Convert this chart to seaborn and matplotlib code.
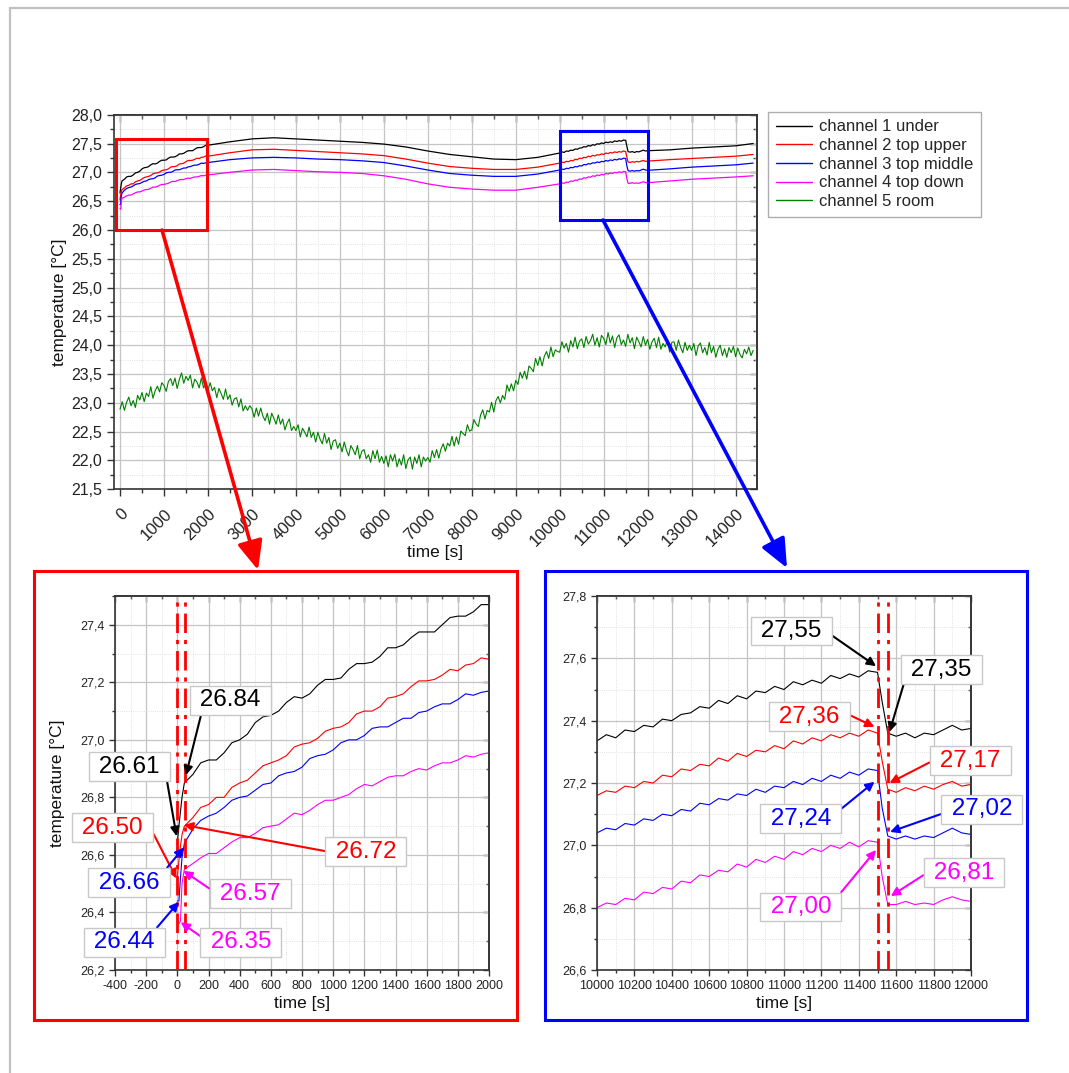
import numpy as np
import pandas as pd
import matplotlib
matplotlib.use("Agg")
import matplotlib.pyplot as plt
import seaborn as sns
from matplotlib.patches import Rectangle, FancyArrowPatch
from matplotlib.lines import Line2D
from matplotlib.ticker import MultipleLocator, FuncFormatter

# ---------------- data ----------------
t_channels = ([0, 10, 20, 30, 45] + list(range(100, 2001, 50)) + list(range(2500, 9501, 500))
              + list(range(10000, 11501, 50)) + [11525, 11555] + list(range(11600, 12001, 50))
              + list(range(12500, 14001, 500)) + [14400])

ch1_under = ([26.64, 26.70, 26.75, 26.80, 26.85]
             + [26.88, 26.92, 26.93, 26.93, 26.955, 26.99, 27.00, 27.02, 27.06, 27.08,
                27.085, 27.10, 27.13, 27.15, 27.145, 27.16, 27.19, 27.21, 27.21, 27.215,
                27.245, 27.265, 27.265, 27.27, 27.29, 27.32, 27.32, 27.33, 27.355, 27.375,
                27.375, 27.375, 27.40, 27.425, 27.43, 27.43, 27.445, 27.47, 27.47]
             + [27.53, 27.58, 27.60, 27.58, 27.56, 27.54, 27.52, 27.49, 27.44, 27.37, 27.31,
                27.27, 27.23, 27.22, 27.26]
             + [27.335, 27.355, 27.345, 27.37, 27.365, 27.385, 27.38, 27.405, 27.40, 27.42,
                27.425, 27.445, 27.44, 27.465, 27.455, 27.48, 27.47, 27.495, 27.49, 27.51,
                27.50, 27.525, 27.515, 27.53, 27.52, 27.545, 27.535, 27.55, 27.54, 27.56, 27.555]
             + [27.46, 27.36]
             + [27.35, 27.36, 27.345, 27.36, 27.355, 27.37, 27.385, 27.37, 27.375]
             + [27.39, 27.42, 27.44, 27.46]
             + [27.50])

ch2_top_upper = ([26.52, 26.58, 26.63, 26.67, 26.70]
                 + [26.73, 26.765, 26.775, 26.80, 26.80, 26.835, 26.85, 26.86, 26.885, 26.91,
                    26.92, 26.93, 26.945, 26.975, 26.985, 26.99, 27.005, 27.03, 27.04, 27.045,
                    27.06, 27.09, 27.10, 27.10, 27.115, 27.145, 27.15, 27.16, 27.185, 27.205,
                    27.205, 27.21, 27.225, 27.245, 27.24, 27.26, 27.265, 27.285, 27.28]
                 + [27.34, 27.39, 27.40, 27.38, 27.36, 27.34, 27.32, 27.29, 27.23, 27.16, 27.10,
                    27.07, 27.05, 27.05, 27.09]
                 + [27.16, 27.175, 27.17, 27.19, 27.185, 27.205, 27.20, 27.225, 27.22, 27.245,
                    27.24, 27.26, 27.255, 27.28, 27.27, 27.295, 27.285, 27.305, 27.30, 27.32,
                    27.31, 27.335, 27.325, 27.345, 27.335, 27.355, 27.345, 27.36, 27.35, 27.37,
                    27.36]
                 + [27.27, 27.18]
                 + [27.17, 27.185, 27.175, 27.19, 27.18, 27.195, 27.205, 27.19, 27.195]
                 + [27.22, 27.24, 27.26, 27.28]
                 + [27.31])

ch3_top_middle = ([26.44, 26.44, 26.52, 26.59, 26.64]
                  + [26.69, 26.72, 26.735, 26.745, 26.765, 26.79, 26.80, 26.805, 26.825, 26.845,
                     26.85, 26.875, 26.885, 26.89, 26.905, 26.935, 26.945, 26.95, 26.965, 26.99,
                     27.00, 27.00, 27.015, 27.04, 27.045, 27.045, 27.06, 27.075, 27.075, 27.095,
                     27.10, 27.115, 27.125, 27.125, 27.14, 27.16, 27.155, 27.165, 27.17]
                  + [27.22, 27.25, 27.26, 27.25, 27.23, 27.22, 27.20, 27.17, 27.11, 27.04, 26.98,
                     26.95, 26.93, 26.93, 26.97]
                  + [27.04, 27.055, 27.05, 27.07, 27.065, 27.085, 27.08, 27.10, 27.095, 27.115,
                     27.11, 27.135, 27.13, 27.15, 27.145, 27.165, 27.16, 27.18, 27.17, 27.19,
                     27.185, 27.205, 27.195, 27.215, 27.205, 27.225, 27.215, 27.235, 27.225, 27.245,
                     27.24]
                  + [27.12, 27.03]
                  + [27.02, 27.03, 27.02, 27.03, 27.025, 27.04, 27.055, 27.04, 27.035]
                  + [27.06, 27.09, 27.11, 27.13]
                  + [27.16])

ch4_top_down = ([26.37, 26.36, 26.37, 26.50, 26.55]
                + [26.57, 26.59, 26.605, 26.605, 26.625, 26.645, 26.66, 26.66, 26.675, 26.695,
                   26.70, 26.705, 26.725, 26.745, 26.74, 26.755, 26.775, 26.79, 26.79, 26.80,
                   26.81, 26.83, 26.845, 26.84, 26.855, 26.87, 26.875, 26.875, 26.89, 26.90,
                   26.895, 26.91, 26.92, 26.92, 26.93, 26.945, 26.94, 26.95, 26.955]
                + [27.00, 27.04, 27.05, 27.03, 27.01, 27.00, 26.98, 26.94, 26.88, 26.80, 26.74,
                   26.71, 26.69, 26.69, 26.74]
                + [26.80, 26.815, 26.81, 26.83, 26.825, 26.85, 26.845, 26.865, 26.86, 26.885,
                   26.88, 26.905, 26.90, 26.92, 26.915, 26.94, 26.93, 26.955, 26.945, 26.965,
                   26.955, 26.98, 26.97, 26.99, 26.98, 27.00, 26.99, 27.01, 26.995, 27.015,
                   27.01]
                + [26.90, 26.81]
                + [26.81, 26.82, 26.81, 26.815, 26.81, 26.825, 26.835, 26.825, 26.82]
                + [26.85, 26.88, 26.90, 26.92]
                + [26.94])

t_room = list(range(0, 14401, 50))
ch5_room = [22.89, 23.02, 22.87, 23.01, 23.10, 22.95, 23.04, 22.92, 23.13, 23.05,
            23.18, 23.02, 23.17, 23.11, 23.28, 23.08, 23.21, 23.29, 23.19, 23.35,
            23.30, 23.20, 23.37, 23.42, 23.30, 23.43, 23.25, 23.41, 23.52, 23.34,
            23.46, 23.39, 23.48, 23.26, 23.41, 23.36, 23.26, 23.43, 23.26, 23.35,
            23.22, 23.35, 23.21, 23.27, 23.09, 23.25, 23.16, 23.06, 23.24, 23.06,
            23.14, 22.96, 23.07, 23.09, 22.93, 23.07, 22.86, 22.95, 22.87, 22.95,
            22.90, 22.75, 22.91, 22.77, 22.91, 22.77, 22.69, 22.82, 22.63, 22.82,
            22.73, 22.63, 22.79, 22.63, 22.72, 22.53, 22.65, 22.72, 22.52, 22.59,
            22.52, 22.62, 22.41, 22.56, 22.49, 22.41, 22.58, 22.40, 22.49, 22.32,
            22.49, 22.37, 22.29, 22.47, 22.30, 22.40, 22.19, 22.34, 22.36, 22.21,
            22.30, 22.15, 22.32, 22.18, 22.08, 22.26, 22.19, 22.10, 22.26, 22.03,
            22.16, 22.19, 22.03, 22.10, 21.97, 22.17, 22.03, 22.18, 21.97, 22.07,
            21.95, 22.08, 21.89, 22.10, 21.99, 22.11, 21.89, 22.03, 21.92, 22.10,
            21.86, 22.01, 22.06, 21.85, 22.06, 21.95, 22.10, 21.89, 22.06, 21.99,
            22.05, 21.97, 22.17, 22.05, 22.19, 22.04, 22.20, 22.29, 22.16, 22.30,
            22.25, 22.42, 22.25, 22.41, 22.28, 22.51, 22.47, 22.43, 22.62, 22.51,
            22.53, 22.71, 22.63, 22.59, 22.79, 22.88, 22.72, 22.87, 22.84, 23.01,
            22.84, 23.04, 23.11, 23.00, 23.13, 23.06, 23.31, 23.20, 23.33, 23.21,
            23.39, 23.32, 23.53, 23.43, 23.55, 23.41, 23.64, 23.60, 23.54, 23.77,
            23.65, 23.80, 23.64, 23.81, 23.89, 23.77, 23.97, 23.80, 23.92, 23.89,
            23.88, 24.06, 23.95, 24.03, 23.88, 24.08, 23.97, 24.14, 23.94, 24.07,
            24.11, 23.96, 24.15, 24.02, 24.08, 24.19, 24.00, 24.13, 23.97, 24.17,
            24.12, 24.01, 24.22, 24.04, 24.16, 23.96, 24.13, 24.18, 24.01, 24.09,
            23.98, 24.19, 24.04, 24.13, 23.94, 24.14, 24.06, 23.97, 24.15, 24.00,
            24.10, 23.93, 24.06, 24.12, 23.96, 24.14, 23.93, 24.03, 23.97, 24.10,
            23.88, 24.05, 24.06, 23.91, 24.09, 23.96, 23.87, 24.05, 23.91, 24.00,
            23.91, 24.03, 23.82, 23.99, 24.04, 23.87, 23.96, 23.83, 24.05, 23.87,
            23.98, 23.79, 23.93, 24.00, 23.82, 23.94, 23.79, 23.96, 23.87, 23.98,
            23.80, 23.95, 23.84, 23.78, 23.93, 23.85, 23.97, 23.82, 23.91]

channel_labels = ["channel 1 under", "channel 2 top upper", "channel 3 top middle",
                  "channel 4 top down", "channel 5 room"]
channel_colors = ["#000000", "#ff0000", "#0000ff", "#ff00ff", "#008000"]

# annotations: (text, colour index, tip (t, T), label centre (t, T), arrow start rel. pos.)
left_notes = [("26.84", 0, (55, 26.877), (339, 27.138), (0.12, 0.0)),
              ("26.61", 0, (-5, 26.665), (-308, 26.906), (1.0, 0.0)),
              ("26.50", 1, (-5, 26.518), (-415, 26.694), (1.0, 0.55)),
              ("26.72", 1, (42, 26.704), (1209, 26.611), (0.0, 0.5)),
              ("26.66", 2, (42, 26.626), (-310, 26.504), (0.97, 1.0)),
              ("26.57", 3, (38, 26.545), (468, 26.465), (0.0, 0.62)),
              ("26.44", 2, (10, 26.437), (-342, 26.296), (0.9, 1.0)),
              ("26.35", 3, (21, 26.366), (408, 26.296), (0.0, 0.67))]
right_notes = [("27,55", 0, (11492, 27.575), (11040, 27.688), (1.0, 0.4)),
               ("27,35", 0, (11564, 27.364), (11841, 27.564), (0.03, 0.25)),
               ("27,36", 1, (11484, 27.380), (11136, 27.413), (1.0, 0.64)),
               ("27,17", 1, (11564, 27.200), (11996, 27.272), (0.0, 0.5)),
               ("27,24", 2, (11484, 27.204), (11090, 27.085), (1.0, 0.83)),
               ("27,02", 2, (11567, 27.043), (12057, 27.115), (0.0, 0.35)),
               ("27,00", 3, (11492, 26.985), (11090, 26.802), (1.0, 1.0)),
               ("26,81", 3, (11571, 26.837), (11963, 26.912), (0.0, 0.5))]
left_markers = [0, 50]
right_markers = [11500, 11555]
left_zoom = (-90, 26.0, 1975, 27.57)
right_zoom = (10000, 26.17, 12000, 27.72)

# ---------------- style ----------------
sns.set_theme(style="white")
plt.rcParams["font.family"] = ["Liberation Sans", "DejaVu Sans"]
plt.rcParams["axes.edgecolor"] = "#333333"

W, H = 1069, 1073
fig = plt.figure(figsize=(W / 100, H / 100), dpi=100)
fig.patch.set_facecolor("white")


def px_rect(l, t, r, b):
    return [l / W, 1 - b / H, (r - l) / W, (b - t) / H]


comma = FuncFormatter(lambda v, p: f"{v:.1f}".replace(".", ","))
intfmt = FuncFormatter(lambda v, p: f"{int(round(v))}")


def style(ax, xmaj, xmin, ymaj, ymin, lsize, maj_len, min_len):
    ax.xaxis.set_major_locator(MultipleLocator(xmaj))
    ax.xaxis.set_minor_locator(MultipleLocator(xmin))
    ax.yaxis.set_major_locator(MultipleLocator(ymaj))
    ax.yaxis.set_minor_locator(MultipleLocator(ymin))
    ax.yaxis.set_major_formatter(comma)
    ax.xaxis.set_major_formatter(intfmt)
    ax.grid(which="major", color="#c4c4c4", lw=0.9)
    ax.grid(which="minor", color="#d8d8d8", lw=0.6, ls=":")
    ax.set_axisbelow(True)
    for s in ax.spines.values():
        s.set_visible(True)
        s.set_color("#333333")
        s.set_linewidth(1.2)
    ax.tick_params(which="both", direction="out", color="#333333", width=1,
                   labelsize=lsize, labelcolor="#222222", bottom=True, left=True)
    ax.tick_params(which="major", length=maj_len)
    ax.tick_params(which="minor", length=min_len)
    top = ax.secondary_xaxis("top")
    top.xaxis.set_major_locator(MultipleLocator(xmaj))
    top.xaxis.set_minor_locator(MultipleLocator(xmin))
    top.tick_params(which="both", direction="in", labeltop=False, color="#333333", width=1)
    top.tick_params(which="major", length=maj_len)
    top.tick_params(which="minor", length=min_len)
    right = ax.secondary_yaxis("right")
    right.yaxis.set_major_locator(MultipleLocator(ymaj))
    right.yaxis.set_minor_locator(MultipleLocator(ymin))
    right.tick_params(which="both", direction="in", labelright=False, color="#333333", width=1)
    right.tick_params(which="major", length=maj_len)
    right.tick_params(which="minor", length=min_len)
    for sec in (top, right):
        for s in sec.spines.values():
            s.set_color("#333333")
            s.set_linewidth(1.2)


series = [ch1_under, ch2_top_upper, ch3_top_middle, ch4_top_down]


def draw_channels(ax, with_room, lw):
    for vals, lab, col in zip(series, channel_labels[:4], channel_colors[:4]):
        df = pd.DataFrame({"t": t_channels, "T": vals})
        sns.lineplot(data=df, x="t", y="T", ax=ax, color=col, lw=lw, label=lab,
                     estimator=None, sort=False, legend=False)
    if with_room:
        df = pd.DataFrame({"t": t_room, "T": ch5_room})
        sns.lineplot(data=df, x="t", y="T", ax=ax, color=channel_colors[4], lw=0.8,
                     label=channel_labels[4], estimator=None, sort=False, legend=False)


# ---------------- main chart ----------------
ax = fig.add_axes(px_rect(114.3, 114.7, 756.7, 489.3))
draw_channels(ax, True, 0.9)
ax.set_xlim(-130, 14480)
ax.set_ylim(21.5, 28.0)
style(ax, 1000, 500, 0.5, 0.25, 11.5, 5, 3)
for lbl in ax.get_xticklabels():
    lbl.set_rotation(45)
    lbl.set_ha("right")
    lbl.set_va("top")
    lbl.set_rotation_mode("anchor")
ax.tick_params(axis="x", pad=7, labelsize=12)
ax.set_xlabel("time [s]", fontsize=12.5, color="#111111")
ax.set_ylabel("temperature [°C]", fontsize=12.5, color="#111111")
ax.xaxis.set_label_coords(0.5, -0.148)
ax.yaxis.set_label_coords(-0.073, 0.5)

handles = [Line2D([0], [0], color=c, lw=1.0) for c in channel_colors]
leg = ax.legend(handles, channel_labels, loc="upper left",
                bbox_to_anchor=(768 / W, 1 - 112 / H), bbox_transform=fig.transFigure,
                borderaxespad=0, frameon=True, fancybox=False, fontsize=12,
                handlelength=2.2, handletextpad=0.4, labelspacing=0.22, borderpad=0.45)
leg.get_frame().set_edgecolor("#9a9a9a")
leg.get_frame().set_linewidth(1.0)

for (x0, y0, x1, y1), col in ((left_zoom, "#ff0000"), (right_zoom, "#0000ff")):
    ax.add_patch(Rectangle((x0, y0), x1 - x0, y1 - y0, fill=False, ec=col, lw=2.2,
                           zorder=6, clip_on=False))

# ---------------- insets ----------------
def annotate(ax, notes):
    for txt, ci, tip, ctr, rp in notes:
        col = channel_colors[ci]
        ax.annotate(f" {txt} ", xy=tip, xytext=ctr, xycoords="data", textcoords="data",
                    ha="center", va="center", fontsize=17.5, color=col, zorder=8,
                    annotation_clip=False,
                    bbox=dict(boxstyle="square,pad=0.14", fc="white", ec="#c8c8c8", lw=1.0),
                    arrowprops=dict(arrowstyle="-|>", color=col, lw=1.5, shrinkA=0, shrinkB=0,
                                    relpos=rp, mutation_scale=13))


axl = fig.add_axes(px_rect(115, 596, 489, 970))
draw_channels(axl, False, 0.8)
axl.set_xlim(-400, 2000)
axl.set_ylim(26.2, 27.5)
style(axl, 200, 100, 0.2, 0.1, 9, 4, 2.5)
axl.set_xlabel("time [s]", fontsize=12.5, color="#111111")
axl.set_ylabel("temperature [°C]", fontsize=12.5, color="#111111")
axl.xaxis.set_label_coords(0.5, -0.07)
axl.yaxis.set_label_coords(-0.135, 0.5)
for xm in left_markers:
    axl.axvline(xm, color="#ff0000", lw=2, dashes=(7, 2.5, 1.5, 2.5), zorder=4)
annotate(axl, left_notes)

axr = fig.add_axes(px_rect(597, 596, 971, 970))
draw_channels(axr, False, 0.8)
axr.set_xlim(10000, 12000)
axr.set_ylim(26.6, 27.8)
style(axr, 200, 100, 0.2, 0.1, 9, 4, 2.5)
axr.set_xlabel("time [s]", fontsize=12.5, color="#111111")
axr.set_ylabel("")
axr.xaxis.set_label_coords(0.5, -0.07)
for xm in right_markers:
    axr.axvline(xm, color="#ff0000", lw=2, dashes=(7, 2.5, 1.5, 2.5), zorder=4)
annotate(axr, right_notes)

# ---------------- figure decorations ----------------
fig.add_artist(Rectangle((34 / W, 1 - 1020 / H), (517 - 34) / W, (1020 - 571) / H,
                         transform=fig.transFigure, fill=False, ec="#ff0000", lw=2.2))
fig.add_artist(Rectangle((545 / W, 1 - 1020 / H), (1027 - 545) / W, (1020 - 571) / H,
                         transform=fig.transFigure, fill=False, ec="#0000ff", lw=2.2))

for (xa, ya), (xb, yb), col in (((162, 230), (258, 570), "#ff0000"),
                                ((603, 220), (787, 568), "#0000ff")):
    fig.add_artist(FancyArrowPatch((xa / W, 1 - ya / H), (xb / W, 1 - yb / H),
                                   transform=fig.transFigure,
                                   arrowstyle="-|>,head_length=0.8,head_width=0.35",
                                   mutation_scale=22, lw=2.6, color=col,
                                   shrinkA=0, shrinkB=0, zorder=10))

fig.add_artist(Line2D([10 / W, 10 / W], [0, 1 - 8 / H], transform=fig.transFigure,
                      color="#c0c0c0", lw=1.6))
fig.add_artist(Line2D([10 / W, 1], [1 - 8 / H, 1 - 8 / H], transform=fig.transFigure,
                      color="#c0c0c0", lw=1.6))

fig.savefig("out.png", dpi=100, facecolor="white")
